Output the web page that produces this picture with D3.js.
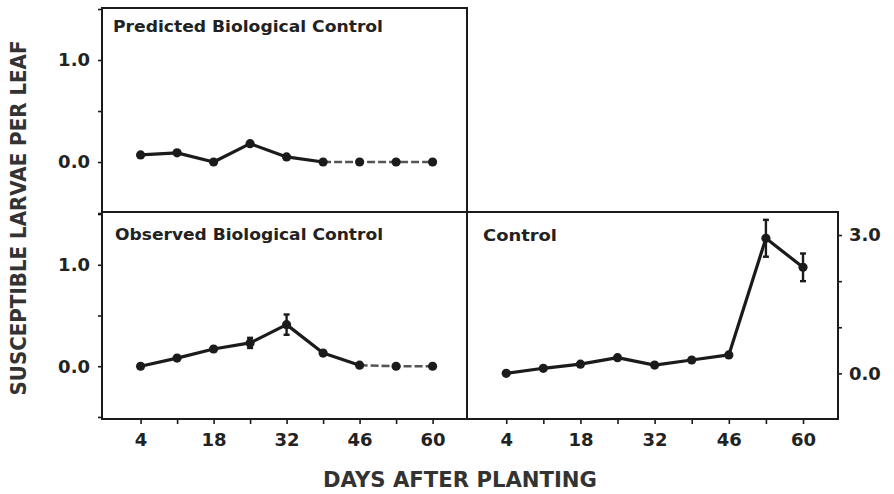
<!DOCTYPE html>
<html>
<head>
<meta charset="utf-8">
<script src="https://cdn.jsdelivr.net/npm/d3@7"></script>
<style>
    body { margin: 0; background: #fff; }
    svg { display: block; font-family: 'DejaVu Sans', 'Liberation Sans', Arial, sans-serif; }
</style>
</head>
<body>
<div id="chart"></div>
<script>
// data
const days = [4, 11, 18, 25, 32, 39, 46, 53, 60];
const dayLabels = [4, 18, 32, 46, 60];
const predicted = [0.07, 0.09, 0.0, 0.18, 0.05, 0.0, 0.0, 0.0, 0.0];
const observed = [0.0, 0.08, 0.17, 0.23, 0.41, 0.13, 0.01, 0.0, 0.0];
const observedErr = [0, 0, 0, 0.05, 0.1, 0, 0, 0, 0];
const control = [0.0, 0.11, 0.2, 0.34, 0.18, 0.29, 0.4, 2.93, 2.3];
const controlErr = [0, 0, 0, 0, 0, 0, 0, 0.4, 0.3];
const leftTicks = [-0.5, 0, 0.5, 1, 1.5];
const leftLabels = [0, 1];
const rightTicks = [0, 1, 2, 3];
const rightLabels = [0, 3];

const W = 894;
const H = 494;
const ink = '#1b1b1b';

// panel frame edges
const xL = 102;
const xM = 467;
const xR = 838;
const yT = 8;
const yM = 212;
const yB = 419;

const svg = d3.select('#chart').append('svg')
    .attr('width', W)
    .attr('height', H);

const fmt = (labels) => (d) => (labels.includes(d) ? d3.format('.1f')(d) : '');

const styleAxis = (g) => {
    g.select('.domain').remove();
    g.selectAll('.tick line').attr('stroke', ink).attr('stroke-width', 1.6);
    g.selectAll('.tick text')
        .attr('fill', '#222')
        .attr('font-size', 18)
        .attr('font-weight', 'bold')
        .attr('font-family', "'DejaVu Sans', sans-serif");
};

const drawPanel = ({
    x0, x1, y0, y1, values, errors, yDomain, title, titleW, dashFrom, axes,
}) => {
    const width = x1 - x0;
    const height = y1 - y0;
    const g = svg.append('g').attr('transform', `translate(${[x0, y0]})`);

    const x = d3.scaleLinear().domain([-3.4, 66.6]).range([0, width]);
    const y = d3.scaleLinear().domain(yDomain).range([height, 0]);

    if (axes.left) {
        g.append('g')
            .call(d3.axisLeft(y).tickValues(leftTicks).tickSize(4).tickPadding(8)
                .tickFormat(fmt(leftLabels)))
            .call(styleAxis);
    }
    if (axes.right) {
        g.append('g')
            .attr('transform', `translate(${width},0)`)
            .call(d3.axisRight(y).tickValues(rightTicks).tickSize(4).tickPadding(7)
                .tickFormat(fmt(rightLabels)))
            .call(styleAxis);
    }
    if (axes.bottom) {
        g.append('g')
            .attr('transform', `translate(0,${height})`)
            .call(d3.axisBottom(x).tickValues(days).tickSize(5).tickPadding(9)
                .tickFormat((d) => (dayLabels.includes(d) ? d : '')))
            .call(styleAxis);
    }

    g.append('rect')
        .attr('width', width)
        .attr('height', height)
        .attr('fill', 'none')
        .attr('stroke', ink)
        .attr('stroke-width', 2);

    g.append('text')
        .attr('x', axes.titleX)
        .attr('y', axes.titleY)
        .attr('font-size', 15.5)
        .attr('font-weight', 'bold')
        .attr('fill', '#222')
        .attr('textLength', titleW)
        .attr('lengthAdjust', 'spacingAndGlyphs')
        .text(title);

    const pts = days.map((d, i) => ({ d, v: values[i], e: errors ? errors[i] : 0 }));
    const line = d3.line().x((p) => x(p.d)).y((p) => y(p.v));

    g.append('path')
        .datum(pts.slice(0, dashFrom + 1))
        .attr('d', line)
        .attr('fill', 'none')
        .attr('stroke', ink)
        .attr('stroke-width', 3.2)
        .attr('stroke-linejoin', 'round');

    if (dashFrom < pts.length - 1) {
        g.append('path')
            .datum(pts.slice(dashFrom))
            .attr('d', line)
            .attr('fill', 'none')
            .attr('stroke', '#555')
            .attr('stroke-width', 2.6)
            .attr('stroke-dasharray', '8,3');
    }

    const err = g.selectAll('.err')
        .data(pts.filter((p) => p.e > 0))
        .join('g')
        .attr('class', 'err')
        .attr('stroke', ink)
        .attr('stroke-width', 2.4);
    err.append('line')
        .attr('x1', (p) => x(p.d)).attr('x2', (p) => x(p.d))
        .attr('y1', (p) => y(p.v - p.e)).attr('y2', (p) => y(p.v + p.e));
    err.append('line')
        .attr('x1', (p) => x(p.d) - 3).attr('x2', (p) => x(p.d) + 3)
        .attr('y1', (p) => y(p.v + p.e)).attr('y2', (p) => y(p.v + p.e));
    err.append('line')
        .attr('x1', (p) => x(p.d) - 3).attr('x2', (p) => x(p.d) + 3)
        .attr('y1', (p) => y(p.v - p.e)).attr('y2', (p) => y(p.v - p.e));

    g.selectAll('.dot')
        .data(pts)
        .join('circle')
        .attr('class', 'dot')
        .attr('cx', (p) => x(p.d))
        .attr('cy', (p) => y(p.v))
        .attr('r', 4.6)
        .attr('fill', ink);
};

drawPanel({
    x0: xL, x1: xM, y0: yT, y1: yM,
    values: predicted,
    yDomain: [-0.49, 1.51],
    title: 'Predicted Biological Control',
    titleW: 270,
    dashFrom: 5,
    axes: { left: true, titleX: 11, titleY: 24 },
});

drawPanel({
    x0: xL, x1: xM, y0: yM, y1: yB,
    values: observed,
    errors: observedErr,
    yDomain: [-0.52, 1.52],
    title: 'Observed Biological Control',
    titleW: 268,
    dashFrom: 6,
    axes: { left: true, bottom: true, titleX: 13, titleY: 28 },
});

drawPanel({
    x0: xM, x1: xR, y0: yM, y1: yB,
    values: control,
    errors: controlErr,
    yDomain: [-0.99, 3.5],
    title: 'Control',
    titleW: 74,
    dashFrom: 8,
    axes: { right: true, bottom: true, titleX: 16, titleY: 29 },
});

// axis titles
svg.append('text')
    .attr('transform', 'translate(26,218) rotate(-90)')
    .attr('text-anchor', 'middle')
    .attr('font-size', 22)
    .attr('font-weight', 'bold')
    .attr('fill', '#333')
    .attr('textLength', 355)
    .attr('lengthAdjust', 'spacingAndGlyphs')
    .text('SUSCEPTIBLE LARVAE PER LEAF');

svg.append('text')
    .attr('x', 460)
    .attr('y', 487)
    .attr('text-anchor', 'middle')
    .attr('font-size', 22)
    .attr('font-weight', 'bold')
    .attr('fill', '#333')
    .attr('textLength', 274)
    .attr('lengthAdjust', 'spacingAndGlyphs')
    .text('DAYS AFTER PLANTING');
</script>
</body>
</html>
